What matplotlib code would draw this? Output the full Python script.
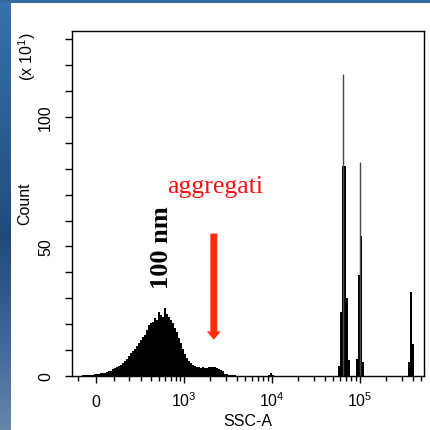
import numpy as np
import matplotlib
matplotlib.use("Agg")
import matplotlib.pyplot as plt
from matplotlib.colors import LinearSegmentedColormap

plt.rcParams["font.family"] = ["Liberation Sans", "DejaVu Sans"]
plt.rcParams["mathtext.default"] = "regular"

# ---- data -------------------------------------------------------------
# SSC-A histogram, counts shown in units of 10 events.
# Each run: first channel (SSC-A value) and its consecutive channel counts.
main_start = -87
main_counts = [
    0.1, 0.2, 0.2, 0.3, 0.3, 0.4, 0.5, 0.6, 0.7, 0.8,
    1.0, 1.1, 1.3, 1.5, 1.8, 2.0, 2.6, 3.0, 3.4, 3.9,
    4.3, 5.0, 5.8, 6.6, 7.8, 8.8, 9.6, 10.6, 11.6, 12.6,
    13.8, 15.2, 16.0, 17.6, 19.5, 20.4, 21.0, 22.3, 21.6, 24.8,
    23.5, 22.8, 26.2, 24.0, 22.9, 21.8, 20.5, 18.6, 16.8, 14.6,
    12.7, 10.6, 8.6, 7.0, 5.8, 5.0, 4.2, 3.8, 3.4, 3.3,
    3.1, 3.4, 3.2, 3.1, 3.5, 3.3, 3.6, 3.5, 3.2, 2.8,
    2.4, 1.8, 0.8, 0.6, 0.5, 0.4, 0.3, 0.2, 0.1,
]
bump_start = 9.09e3
bump_counts = [0.3, 1.1, 0.4]
peak1_start = 5.68e4
peak1_counts = [4.0, 24.7, 81.0, 81.0, 30.0, 6.0]
peak2_start = 9.09e4
peak2_counts = [6.6, 39.0, 54.2, 5.4]
peak3_start = 3.53e5
peak3_counts = [5.4, 32.3, 12.4]

# single-channel spikes on top of the bead peaks
spike_pos = [6.52e4, 1.018e5]
spike_counts = [116.6, 82.5]

x_limits = (-135, 5.38e5)
y_limits = (0, 133.2)
x_major = [0, 1e3, 1e4, 1e5]
x_major_labels = ["0", "$10^3$", "$10^4$", "$10^5$"]
x_minor = ([-100] + [m * 100 for m in range(1, 10)]
           + [m * 1e3 for m in range(2, 10)]
           + [m * 1e4 for m in range(2, 10)]
           + [m * 1e5 for m in range(2, 6)])
y_major = [0, 50, 100]
y_minor = [10, 20, 30, 40, 60, 70, 80, 90, 110, 120, 130]

arrow_x = 2200
arrow_from = 55.0
arrow_to = 14.0
aggr_x, aggr_y = 2250, 70.9
nm_x, nm_y = 549, 49.8

# ---- biexponential-like display scale (arcsinh, in decades) -------------
COFACTOR = 202.0
LN10 = np.log(10.0)
CHANNELS_PER_DECADE = 44


def to_display(v):
    return np.arcsinh(np.asarray(v, dtype=float) / COFACTOR) / LN10


def from_display(u):
    return COFACTOR * np.sinh(np.asarray(u, dtype=float) * LN10)


def channel_edges(start, n):
    k0 = int(np.round(to_display(start) * CHANNELS_PER_DECADE))
    return from_display((k0 + np.arange(n + 1)) / CHANNELS_PER_DECADE)


# ---- figure ---------------------------------------------------------------
W = H = 431
fig = plt.figure(figsize=(W / 100, H / 100), dpi=100, facecolor="white")

# slide frame: blue strip on top and a shaded strip on the left
bg = fig.add_axes([0, 0, 1, 1], zorder=-10)
bg.set_xlim(0, W)
bg.set_ylim(H, 0)
bg.axis("off")
side = LinearSegmentedColormap.from_list(
    "side", [(0.0, "#3871ad"), (0.35, "#2a5b8f"), (0.55, "#1f4a78"),
             (0.8, "#41689a"), (1.0, "#6686ab")])
bg.imshow(np.linspace(0, 1, 256).reshape(-1, 1), cmap=side, aspect="auto",
          extent=(0, 11, H, 0))
bg.fill_between([0, W], 0, 4, color="#35689f", lw=0)

ax = fig.add_axes([72 / W, 1 - 377 / H, 352 / W, 345 / H])
ax.set_xscale("function", functions=(to_display, from_display))
ax.set_xlim(*x_limits)
ax.set_ylim(*y_limits)

for start, counts in [(main_start, main_counts), (bump_start, bump_counts),
                      (peak1_start, peak1_counts), (peak2_start, peak2_counts),
                      (peak3_start, peak3_counts)]:
    ax.stairs(counts, channel_edges(start, len(counts)), fill=True,
              color="black", lw=0)
ax.vlines(spike_pos, 0, spike_counts, color="#4a4a4a", lw=1.0)

for s in ax.spines.values():
    s.set_linewidth(1.0)

ax.set_xticks(x_major)
ax.set_xticklabels(x_major_labels)
ax.set_xticks(x_minor, minor=True)
ax.set_yticks(y_major)
ax.set_yticks(y_minor, minor=True)
ax.tick_params(axis="x", which="major", direction="out", length=5, width=1,
               pad=16.5, labelsize=11.5)
ax.tick_params(axis="x", which="minor", direction="out", length=3.4, width=1)
ax.tick_params(axis="y", which="both", direction="out", length=5, width=1)
ax.tick_params(axis="y", which="major", pad=8.5, labelsize=11.5,
               labelrotation=90)
for lab in ax.get_xticklabels():
    lab.set_verticalalignment("baseline")
for lab in ax.get_yticklabels():
    lab.set_verticalalignment("center")

fig.text(248 / W, 1 - 422 / H, "SSC-A", ha="center", va="center",
         fontsize=11.5)
fig.text(24.5 / W, 1 - 204 / H, "Count", ha="center", va="center",
         rotation=90, fontsize=11.5)
fig.text(27 / W, 1 - 57 / H, "(x 10$^1$)", ha="center", va="center",
         rotation=90, fontsize=11.5)

ax.annotate("", xy=(arrow_x, arrow_to), xytext=(arrow_x, arrow_from),
            arrowprops=dict(arrowstyle="simple,head_length=0.6,head_width=1.0,"
                                       "tail_width=0.5",
                            mutation_scale=10, color="#ff2c0a", lw=0,
                            shrinkA=0, shrinkB=0))
ax.text(aggr_x, aggr_y, "aggregati", color="#ff1010", fontsize=18.5,
        family=["Liberation Serif", "DejaVu Serif"], ha="center",
        va="baseline")
ax.text(nm_x, nm_y, "100 nm", color="black", fontsize=19, fontweight="bold",
        family=["Liberation Serif", "DejaVu Serif"], ha="center", va="center",
        rotation=90)

fig.savefig("out.png", dpi=100, facecolor="white")
